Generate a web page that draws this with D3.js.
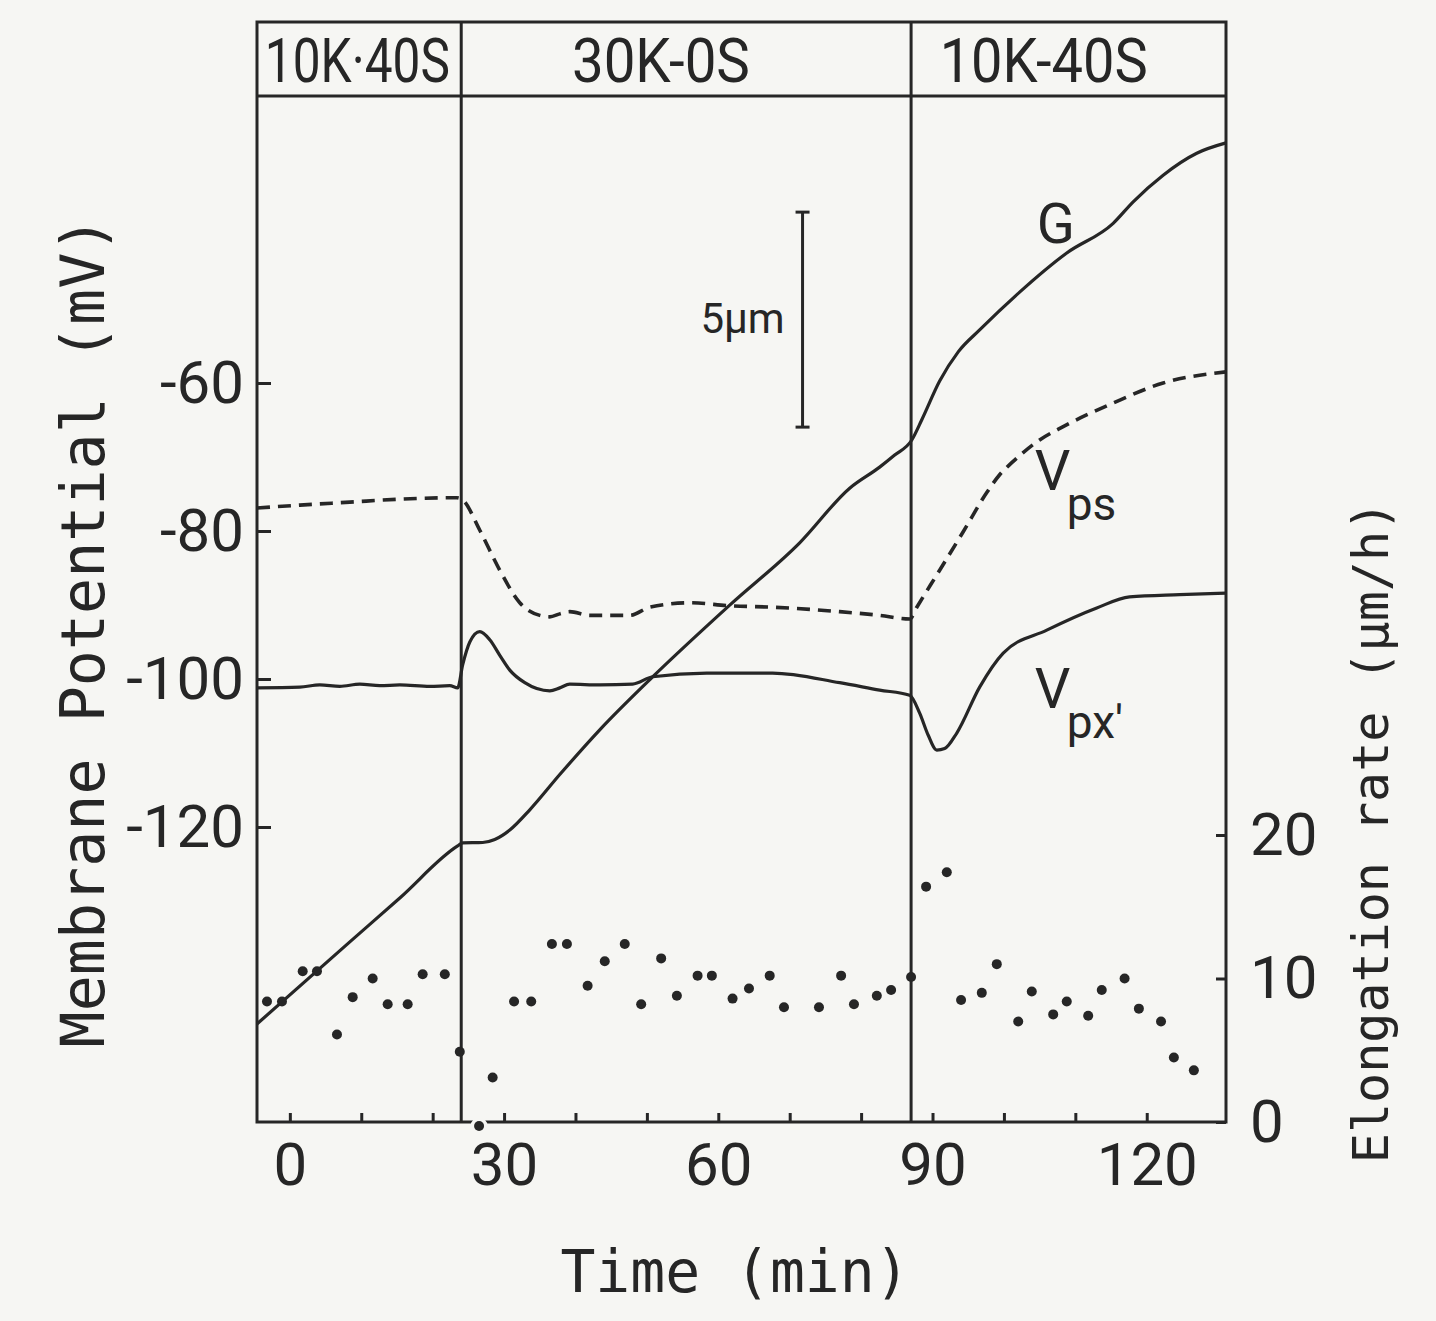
<!DOCTYPE html>
<html lang="en">
<head>
<meta charset="UTF-8" />
<title>Membrane potential and elongation</title>
<style>
  body { margin: 0; background: #f6f6f3; }
  svg text { fill: #262626; }
  .tick text { font-family: Roboto, sans-serif; font-size: 60px; }
  .tick line { stroke: #262626; stroke-width: 3; }
  .axis-title { font-family: "DejaVu Sans Mono", monospace; }
</style>
</head>
<body>
<script src="https://cdn.jsdelivr.net/npm/d3@7/dist/d3.min.js"></script>
<script>
// solution phases (header boxes)
var phaseLabels = ["10K·40S", "30K-0S", "10K-40S"];
var phaseStart = [-4.6, 24, 87];     // min
var phaseTextAt = [-3.5, 39.5, 91];  // where each label starts

var timeTicks = [0, 10, 20, 30, 40, 50, 60, 70, 80, 90, 100, 110, 120];
var timeLabels = [0, 30, 60, 90, 120];
var potTicks = [-60, -80, -100, -120];
var rateTicks = [0, 10, 20];

// G : growth (um, arbitrary origin)
var gTime = [-4.6, 8.4, 15.4, 23.5, 24.2, 27.0, 28.7, 30.8, 33.6, 37.8, 43.4, 50.8, 61.6, 71.4, 78.4, 82.6, 84.7,
  87.1, 88.5, 91.0, 93.6, 96.6, 102.2, 108.8, 115.3, 118.1, 122.3, 127.0, 131.1];
var gLen = [2.28, 4.19, 5.21, 6.42, 6.49, 6.50, 6.57, 6.79, 7.26, 8.08, 9.12, 10.35, 12.02, 13.47, 14.74, 15.23, 15.51,
  15.86, 16.33, 17.23, 17.91, 18.42, 19.30, 20.21, 20.90, 21.40, 22.02, 22.53, 22.77];

// V_px' (solid)
var vpxTime = [-4.6, 1.4, 4.2, 7.0, 9.8, 12.6, 15.4, 19.6, 22.4, 23.5, 24.2, 25.2, 26.6, 28.0, 29.4, 30.8, 32.9, 36.4, 37.8, 39.2,
  43.4, 48.0, 50.8, 58.4, 67.6, 77.0, 82.6, 86.8, 88.2, 89.4, 90.6, 91.7, 93.4, 96.6, 99.9, 106.0, 113.0, 117.6, 124.6, 131.1];
var vpxVal = [-101.2, -101.1, -100.8, -101.0, -100.7, -100.9, -100.8, -101.0, -100.9, -101.2, -98.1, -95.0, -93.6, -94.7, -96.8, -98.8, -100.5, -101.6, -101.2, -100.7,
  -100.8, -100.7, -99.7, -99.2, -99.2, -100.5, -101.5, -102.2, -104.6, -107.6, -109.6, -109.4, -107.3, -101.1, -96.5, -93.4, -90.4, -88.9, -88.6, -88.4];

// V_ps (dashed)
var vpsTime = [-4.6, 1.4, 8.4, 15.4, 23.4, 24.2, 26.6, 29.4, 32.2, 35.0, 36.4, 37.8, 39.2, 42.0, 47.6, 50.4, 56.0, 61.6, 67.6, 77.0,
  82.6, 86.8, 87.8, 91.0, 94.3, 97.6, 99.4, 101.3, 105.0, 108.3, 115.3, 122.3, 131.1];
var vpsVal = [-76.9, -76.5, -76.1, -75.7, -75.5, -75.8, -79.9, -85.3, -89.7, -91.4, -91.6, -91.2, -90.9, -91.4, -91.4, -90.3, -89.7, -90.1, -90.3, -90.9,
  -91.4, -91.9, -90.3, -85.3, -80.1, -74.8, -72.4, -70.6, -67.7, -65.9, -62.7, -60.0, -58.5];

// elongation rate (um/h), dots
var dotTime = [-3.2, -1.1, 1.8, 3.8, 6.6, 8.8, 11.6, 13.7, 16.5, 18.6, 21.7, 23.8, 26.5, 28.4, 31.4, 33.8, 36.7, 38.8,
  41.7, 44.1, 46.9, 49.2, 52.0, 54.2, 57.1, 59.1, 62.0, 64.3, 67.2, 69.2, 74.1, 77.2, 79.0, 82.2, 84.2, 87.0,
  89.1, 92.0, 94.0, 96.9, 99.0, 102.0, 103.9, 106.9, 108.8, 111.8, 113.7, 116.9, 118.9, 122.0, 123.8, 126.6];
var dotRate = [8.4, 8.4, 10.5, 10.5, 6.1, 8.7, 10.0, 8.2, 8.2, 10.3, 10.3, 4.9, 0, 3.1, 8.4, 8.4, 12.4, 12.4,
  9.5, 11.2, 12.4, 8.2, 11.4, 8.8, 10.2, 10.2, 8.6, 9.3, 10.2, 8.0, 8.0, 10.2, 8.2, 8.8, 9.2, 10.1,
  16.4, 17.4, 8.5, 9.0, 11.0, 7.0, 9.1, 7.5, 8.4, 7.4, 9.2, 10.0, 7.9, 7.0, 4.5, 3.6];

var ink = "#262626", bg = "#f6f6f3";
var w = 1436, h = 1321;
var frameL = 257, frameR = 1226, frameT = 22, headB = 96, frameB = 1122;

var svg = d3.select("body").append("svg")
  .attr("width", w)
  .attr("height", h)
  .style("background", bg);

var x = d3.scaleLinear().domain([-4.6, 131.1]).range([frameL, frameR]);
var yV = d3.scaleLinear().domain([-120, -60]).range([827, 383]);
var yR = d3.scaleLinear().domain([0, 20]).range([frameB, 835]);
var yG = d3.scaleLinear().domain([0, 5]).range([frameB, frameB - 215]);

// axes (ticks point inward, frame drawn separately)
svg.append("g")
  .attr("transform", "translate(0," + frameB + ")")
  .call(d3.axisBottom(x).tickValues(timeTicks).tickSize(-9).tickPadding(20)
    .tickFormat(function(d) { return timeLabels.indexOf(d) >= 0 ? d : ""; }))
  .call(function(g) { g.select(".domain").remove(); });

svg.append("g")
  .attr("transform", "translate(" + frameL + ",0)")
  .call(d3.axisLeft(yV).tickValues(potTicks).tickSize(-14).tickPadding(13)
    .tickFormat(function(d) { return String(d); }))
  .call(function(g) { g.select(".domain").remove(); });

svg.append("g")
  .attr("transform", "translate(" + frameR + ",0)")
  .call(d3.axisRight(yR).tickValues(rateTicks).tickSize(-10).tickPadding(24))
  .call(function(g) { g.select(".domain").remove(); });

// frame, header, phase dividers
svg.append("rect")
  .attr("x", frameL).attr("y", frameT)
  .attr("width", frameR - frameL).attr("height", frameB - frameT)
  .attr("fill", "none").attr("stroke", ink).attr("stroke-width", 3);

svg.append("line")
  .attr("x1", frameL).attr("x2", frameR)
  .attr("y1", headB).attr("y2", headB)
  .attr("stroke", ink).attr("stroke-width", 3);

svg.selectAll("line.divider")
  .data(phaseStart.slice(1))
  .enter().append("line")
  .attr("class", "divider")
  .attr("x1", function(d) { return x(d); })
  .attr("x2", function(d) { return x(d); })
  .attr("y1", frameT).attr("y2", frameB)
  .attr("stroke", ink).attr("stroke-width", 3);

var headWidths = [185, 178, 208];
svg.selectAll("text.phase")
  .data(phaseLabels)
  .enter().append("text")
  .attr("class", "phase")
  .attr("x", function(d, i) { return x(phaseTextAt[i]); })
  .attr("y", 82)
  .attr("textLength", function(d, i) { return headWidths[i]; })
  .attr("lengthAdjust", "spacingAndGlyphs")
  .style("font-family", "Roboto, sans-serif")
  .style("font-size", "62px")
  .text(function(d) { return d; });

// curves
var gLine = d3.line()
  .x(function(d, i) { return x(gTime[i]); })
  .y(function(d) { return yG(d); })
  .curve(d3.curveMonotoneX);

var vLine = function(times) {
  return d3.line()
    .x(function(d, i) { return x(times[i]); })
    .y(function(d) { return yV(d); })
    .curve(d3.curveMonotoneX);
};

svg.append("path")
  .datum(gLen)
  .attr("d", gLine)
  .attr("fill", "none").attr("stroke", ink).attr("stroke-width", 3.2);

svg.append("path")
  .datum(vpxVal)
  .attr("d", vLine(vpxTime))
  .attr("fill", "none").attr("stroke", ink).attr("stroke-width", 3.2);

svg.append("path")
  .datum(vpsVal)
  .attr("d", vLine(vpsTime))
  .attr("fill", "none").attr("stroke", ink).attr("stroke-width", 3.6)
  .attr("stroke-dasharray", "13,8");

// dots
svg.selectAll("circle.rate")
  .data(dotRate)
  .enter().append("circle")
  .attr("class", "rate")
  .attr("cx", function(d, i) { return x(dotTime[i]); })
  .attr("cy", function(d) { return yR(d) + (d === 0 ? 4 : 0); })
  .attr("r", 5)
  .attr("fill", ink)
  .attr("stroke", function(d) { return d === 0 ? bg : "none"; })
  .attr("stroke-width", 7)
  .attr("paint-order", "stroke");

// 5 um scale bar
var barTime = 71.8, barFrom = 16.16, barTo = 21.16;
svg.append("line")
  .attr("x1", x(barTime)).attr("x2", x(barTime))
  .attr("y1", yG(barFrom)).attr("y2", yG(barTo))
  .attr("stroke", ink).attr("stroke-width", 3);
[barFrom, barTo].forEach(function(v) {
  svg.append("line")
    .attr("x1", x(barTime) - 7).attr("x2", x(barTime) + 7)
    .attr("y1", yG(v)).attr("y2", yG(v))
    .attr("stroke", ink).attr("stroke-width", 3);
});
svg.append("text")
  .attr("x", x(69.3)).attr("y", yV(-53.2))
  .attr("text-anchor", "end")
  .style("font-family", "Roboto, sans-serif")
  .style("font-size", "42px")
  .text("5μm");

// curve labels
svg.append("text")
  .attr("x", x(104.6)).attr("y", yV(-41.1))
  .style("font-family", "Roboto, sans-serif").style("font-size", "56px")
  .text("G");

var subLabels = [
  { main: "V", sub: "ps", t: 104.3, v: -74.5, ts: 108.8, vs: -78.5 },
  { main: "V", sub: "px\u2032", t: 104.3, v: -103.9, ts: 108.8, vs: -108.0 }
];
subLabels.forEach(function(s) {
  svg.append("text")
    .attr("x", x(s.t)).attr("y", yV(s.v))
    .style("font-family", "Roboto, sans-serif").style("font-size", "56px")
    .text(s.main);
  svg.append("text")
    .attr("x", x(s.ts)).attr("y", yV(s.vs))
    .style("font-family", "Roboto, sans-serif").style("font-size", "46px")
    .text(s.sub);
});

// axis titles
svg.append("text")
  .attr("class", "axis-title")
  .attr("x", 735).attr("y", 1292)
  .attr("text-anchor", "middle")
  .style("font-size", "58px")
  .text("Time (min)");

svg.append("text")
  .attr("class", "axis-title")
  .attr("transform", "translate(104,632) rotate(-90)")
  .attr("text-anchor", "middle")
  .style("font-size", "60px")
  .text("Membrane Potential (mV)");

svg.append("text")
  .attr("class", "axis-title")
  .attr("transform", "translate(1388,832) rotate(-90)")
  .attr("text-anchor", "middle")
  .style("font-size", "50px")
  .text("Elongation rate (μm/h)");
</script>
</body>
</html>
